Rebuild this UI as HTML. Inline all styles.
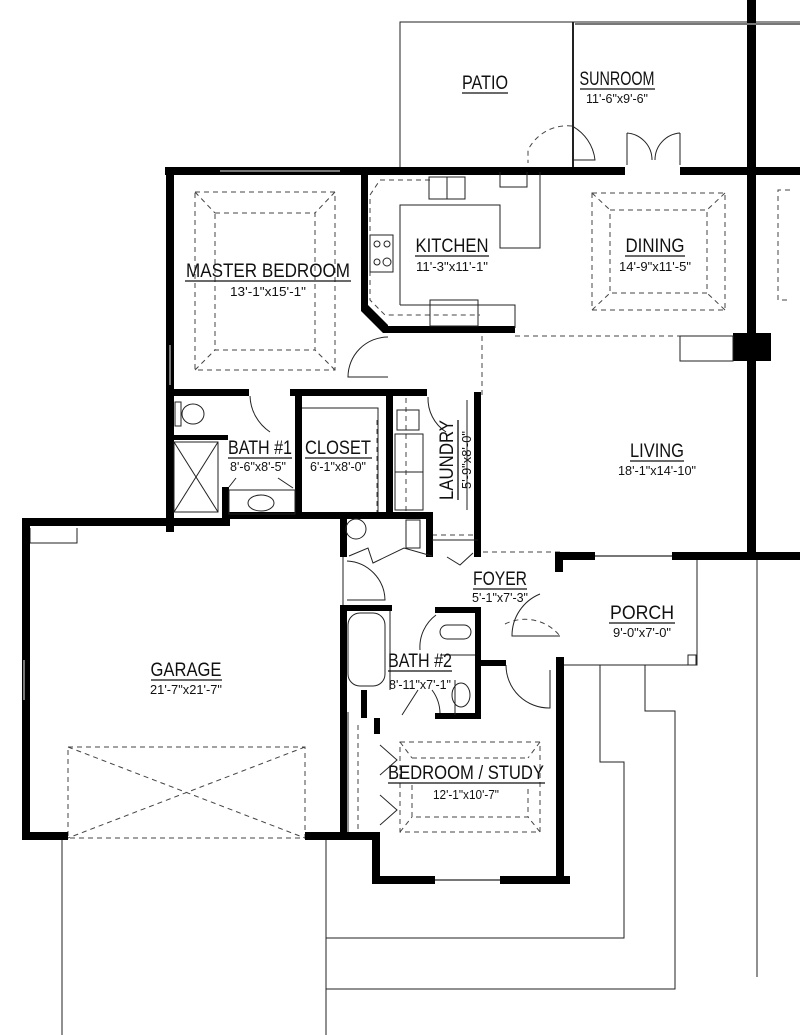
<!DOCTYPE html>
<html><head><meta charset="utf-8"><style>
html,body{margin:0;padding:0;background:#fff}
svg{display:block}
.t{font-family:"Liberation Sans Narrow","Liberation Sans",sans-serif;fill:#111;text-anchor:middle}
.l{font-size:19px}
.d{font-size:13px}
</style></head><body>
<svg width="800" height="1035" viewBox="0 0 800 1035" xmlns="http://www.w3.org/2000/svg">
<g fill="none" stroke="#222" stroke-width="1">
 <polyline points="400,168 400,22 800,22"/>
 <line x1="573" y1="22" x2="573" y2="168" stroke-width="2"/>
 <line x1="62" y1="838" x2="62" y2="1035"/>
 <line x1="326" y1="838" x2="326" y2="1035"/>
 <polyline points="326,938 624,938 624,762 600,762 600,665"/>
 <polyline points="326,989 675,989 675,711 645,711 645,665"/>
 <line x1="757" y1="560" x2="757" y2="977"/>
 <polyline points="562,665 697,665 697,560"/>
 <rect x="688" y="655" width="8" height="10"/>
 <polyline points="30,528 30,543 77,543 77,528"/>
 <line x1="343" y1="520" x2="343" y2="610"/>
 <line x1="348" y1="712" x2="348" y2="838"/>
</g>
<g fill="none" stroke="#444" stroke-width="1" stroke-dasharray="5,4">
 <rect x="195" y="192" width="140" height="178"/>
 <rect x="215" y="213" width="100" height="137"/>
 <line x1="195" y1="192" x2="215" y2="213"/><line x1="335" y1="192" x2="315" y2="213"/>
 <line x1="195" y1="370" x2="215" y2="350"/><line x1="335" y1="370" x2="315" y2="350"/>
 <rect x="592" y="193" width="133" height="117"/>
 <rect x="610" y="210" width="97" height="83"/>
 <line x1="592" y1="193" x2="610" y2="210"/><line x1="725" y1="193" x2="707" y2="210"/>
 <line x1="592" y1="310" x2="610" y2="293"/><line x1="725" y1="310" x2="707" y2="293"/>
 <polyline points="790,190 778,190 778,300 790,300"/>
 <rect x="400" y="742" width="140" height="90"/>
 <line x1="400" y1="742" x2="412" y2="758"/><line x1="540" y1="742" x2="528" y2="758"/>
 <polyline points="412,758 528,758"/>
 <polyline points="412,785 412,817 528,817 528,785"/>
 <line x1="400" y1="832" x2="412" y2="817"/><line x1="540" y1="832" x2="528" y2="817"/>
 <rect x="68" y="747" width="237" height="91"/>
 <line x1="68" y1="747" x2="305" y2="838"/><line x1="305" y1="747" x2="68" y2="838"/>
 <polyline points="430,180 380,180 370,195 370,300 385,315 480,315"/>
 <line x1="515" y1="336" x2="680" y2="336"/>
 <line x1="482" y1="336" x2="482" y2="395"/>
 <line x1="560" y1="552" x2="480" y2="552"/>
 <line x1="406" y1="398" x2="406" y2="512"/>
 <line x1="432" y1="535" x2="478" y2="535"/>
 <polyline points="377,420 377,513 298,513"/>
 <line x1="358" y1="725" x2="358" y2="838"/>
 <path d="M572,126 A44,44 0 0 0 528,150 L528,163"/>
 <path d="M505,624 A45,45 0 0 1 560,636 M560,636 L512,636"/>
</g>
<g fill="#000">
 <rect x="165" y="167" width="235" height="8"/>
 <rect x="400" y="167" width="160" height="8"/>
 <rect x="560" y="167" width="65" height="8"/>
 <rect x="680" y="167" width="120" height="8"/>
 <rect x="747" y="0" width="9" height="557"/>
 <rect x="733" y="333" width="38" height="28"/>
 <rect x="166" y="167" width="8" height="365"/>
 <rect x="361" y="172" width="7" height="133"/>
 <polygon points="361,305 368,305 388,325 388,333 383,333 361,311"/>
 <rect x="383" y="326" width="132" height="7"/>
 <rect x="166" y="389" width="83" height="7"/>
 <rect x="290" y="389" width="137" height="7"/>
 <rect x="295" y="389" width="7" height="125"/>
 <rect x="386" y="389" width="7" height="127"/>
 <rect x="474" y="392" width="7" height="165"/>
 <rect x="166" y="435" width="62" height="5"/>
 <rect x="222" y="487" width="7" height="35"/>
 <rect x="22" y="518" width="208" height="8"/>
 <rect x="222" y="512" width="210" height="7"/>
 <rect x="340" y="512" width="7" height="45"/>
 <rect x="426" y="512" width="7" height="45"/>
 <rect x="22" y="518" width="8" height="322"/>
 <rect x="22" y="832" width="46" height="8"/>
 <rect x="305" y="832" width="73" height="8"/>
 <rect x="340" y="605" width="7" height="110"/>
 <rect x="340" y="605" width="52" height="6"/>
 <rect x="435" y="607" width="46" height="6"/>
 <rect x="475" y="607" width="6" height="112"/>
 <rect x="435" y="713" width="46" height="6"/>
 <rect x="478" y="660" width="28" height="6"/>
 <rect x="361" y="690" width="6" height="28"/>
 <rect x="374" y="718" width="6" height="16"/>
 <rect x="340" y="690" width="7" height="150"/>
 <rect x="372" y="832" width="8" height="52"/>
 <rect x="372" y="876" width="63" height="8"/>
 <rect x="500" y="876" width="70" height="8"/>
 <rect x="556" y="657" width="8" height="227"/>
 <rect x="555" y="552" width="40" height="8"/>
 <rect x="672" y="552" width="128" height="8"/>
 <rect x="555" y="552" width="8" height="20"/>
</g>
<g stroke="#777" stroke-width="2">
 <line x1="220" y1="171" x2="340" y2="171"/>
 <line x1="595" y1="556" x2="672" y2="556"/>
 <line x1="435" y1="880" x2="500" y2="880"/>
 <line x1="575" y1="24" x2="800" y2="24"/>
 <line x1="170" y1="345" x2="170" y2="385"/>
 <line x1="24" y1="660" x2="24" y2="700"/>
</g>
<g fill="none" stroke="#222" stroke-width="1">
 <rect x="429" y="177" width="36" height="22"/>
 <line x1="447" y1="177" x2="447" y2="199"/>
 <polyline points="400,305 400,205 500,205 500,248 540,248 540,172"/>
 <polyline points="400,305 515,305 515,328"/>
 <rect x="430" y="300" width="48" height="26"/>
 <rect x="370" y="235" width="23" height="37"/>
 <circle cx="377" cy="244" r="3"/><circle cx="387" cy="244" r="3"/><circle cx="377" cy="262" r="3"/><circle cx="387" cy="262" r="4"/>
 <polyline points="500,172 500,187 527,187 527,172"/>
 <path d="M572,126 A44,44 0 0 1 595,160 L572,160"/>
 <path d="M627,133 L627,165 M627,133 A27,27 0 0 1 652,160 M680,133 L680,165 M680,133 A27,27 0 0 0 655,160"/>
 <rect x="680" y="336" width="53" height="25"/>
 <path d="M388,337 A40,40 0 0 0 348,377 L388,377"/>
 <rect x="175" y="402" width="6" height="24"/>
 <ellipse cx="193" cy="414" rx="11" ry="10"/>
 <rect x="174" y="442" width="44" height="70"/>
 <line x1="174" y1="442" x2="218" y2="512"/><line x1="218" y1="442" x2="174" y2="512"/>
 <rect x="229" y="490" width="66" height="24"/>
 <ellipse cx="261" cy="503" rx="13" ry="8"/>
 <path d="M250,396 A45,45 0 0 0 270,432"/>
 <path d="M278,478 L293,488 M229,487 L236,478"/>
 <polyline points="302,408 378,408 378,512"/>
 <rect x="397" y="410" width="22" height="20"/>
 <rect x="395" y="434" width="28" height="38"/>
 <rect x="395" y="472" width="28" height="38"/>
 <path d="M428,397 A40,40 0 0 0 446,432"/>
 <line x1="467" y1="400" x2="467" y2="510"/>
 <circle cx="356" cy="529" r="10"/>
 <rect x="406" y="520" width="14" height="28"/>
 <polyline points="349,556 368,548 373,563 404,548 432,556"/>
 <polyline points="447,557 460,565 473,553"/>
 <line x1="432" y1="540" x2="478" y2="540"/>
 <path d="M347,561 A40,40 0 0 1 385,600 L347,600"/>
 <rect x="348" y="613" width="37" height="73" rx="12"/>
 <line x1="390" y1="611" x2="390" y2="690"/>
 <rect x="440" y="625" width="31" height="14" rx="7"/>
 <ellipse cx="461" cy="695" rx="9" ry="12"/>
 <line x1="455" y1="680" x2="455" y2="715"/>
 <path d="M436,615 A40,40 0 0 0 420,650"/>
 <path d="M418,690 L402,715 M432,690 A40,40 0 0 1 440,713"/>
 <line x1="440" y1="655" x2="475" y2="655"/>
 <path d="M506,665 A43,43 0 0 0 550,708 L550,670"/>
 <path d="M560,636 L512,636 A45,45 0 0 1 540,594"/>
 <polyline points="380,745 397,760 380,775"/>
 <polyline points="380,795 397,810 380,825"/>
</g>
<g class="t">
 <text class="l" x="485" y="89" textLength="46" lengthAdjust="spacingAndGlyphs">PATIO</text>
 <text class="l" x="617" y="85" textLength="75" lengthAdjust="spacingAndGlyphs">SUNROOM</text>
 <text class="d" x="617" y="103" textLength="62" lengthAdjust="spacingAndGlyphs">11'-6"x9'-6"</text>
 <text class="l" x="268" y="277" textLength="164" lengthAdjust="spacingAndGlyphs">MASTER BEDROOM</text>
 <text class="d" x="268" y="296" textLength="76" lengthAdjust="spacingAndGlyphs">13'-1"x15'-1"</text>
 <text class="l" x="452" y="252" textLength="73" lengthAdjust="spacingAndGlyphs">KITCHEN</text>
 <text class="d" x="452" y="271" textLength="72" lengthAdjust="spacingAndGlyphs">11'-3"x11'-1"</text>
 <text class="l" x="655" y="252" textLength="59" lengthAdjust="spacingAndGlyphs">DINING</text>
 <text class="d" x="655" y="271" textLength="72" lengthAdjust="spacingAndGlyphs">14'-9"x11'-5"</text>
 <text class="l" x="657" y="457" textLength="54" lengthAdjust="spacingAndGlyphs">LIVING</text>
 <text class="d" x="657" y="475" textLength="78" lengthAdjust="spacingAndGlyphs">18'-1"x14'-10"</text>
 <text class="l" x="260" y="454" textLength="64" lengthAdjust="spacingAndGlyphs">BATH #1</text>
 <text class="d" x="258" y="471" textLength="56" lengthAdjust="spacingAndGlyphs">8'-6"x8'-5"</text>
 <text class="l" x="338" y="454" textLength="66" lengthAdjust="spacingAndGlyphs">CLOSET</text>
 <text class="d" x="338" y="471" textLength="56" lengthAdjust="spacingAndGlyphs">6'-1"x8'-0"</text>
 <text class="l" transform="translate(453,460) rotate(-90)" textLength="80" lengthAdjust="spacingAndGlyphs">LAUNDRY</text>
 <text class="d" transform="translate(471,460) rotate(-90)" textLength="58" lengthAdjust="spacingAndGlyphs">5'-9"x8'-0"</text>
 <text class="l" x="500" y="585" textLength="54" lengthAdjust="spacingAndGlyphs">FOYER</text>
 <text class="d" x="500" y="602" textLength="56" lengthAdjust="spacingAndGlyphs">5'-1"x7'-3"</text>
 <text class="l" x="642" y="619" textLength="64" lengthAdjust="spacingAndGlyphs">PORCH</text>
 <text class="d" x="642" y="637" textLength="58" lengthAdjust="spacingAndGlyphs">9'-0"x7'-0"</text>
 <text class="l" x="186" y="676" textLength="71" lengthAdjust="spacingAndGlyphs">GARAGE</text>
 <text class="d" x="186" y="694" textLength="72" lengthAdjust="spacingAndGlyphs">21'-7"x21'-7"</text>
 <text class="l" x="420" y="667" textLength="64" lengthAdjust="spacingAndGlyphs">BATH #2</text>
 <text class="d" x="420" y="689" textLength="62" lengthAdjust="spacingAndGlyphs">8'-11"x7'-1"</text>
 <text class="l" x="466" y="779" textLength="156" lengthAdjust="spacingAndGlyphs">BEDROOM / STUDY</text>
 <text class="d" x="466" y="799" textLength="66" lengthAdjust="spacingAndGlyphs">12'-1"x10'-7"</text>
</g>
<g stroke="#111" stroke-width="1.3">
 <line x1="462" y1="93" x2="508" y2="93"/>
 <line x1="580" y1="89" x2="655" y2="89"/>
 <line x1="185" y1="281" x2="351" y2="281"/>
 <line x1="415" y1="256" x2="489" y2="256"/>
 <line x1="625" y1="256" x2="685" y2="256"/>
 <line x1="630" y1="461" x2="684" y2="461"/>
 <line x1="228" y1="458" x2="292" y2="458"/>
 <line x1="305" y1="458" x2="372" y2="458"/>
 <line x1="458" y1="420" x2="458" y2="500"/>
 <line x1="473" y1="589" x2="527" y2="589"/>
 <line x1="609" y1="623" x2="675" y2="623"/>
 <line x1="151" y1="680" x2="222" y2="680"/>
 <line x1="388" y1="671" x2="452" y2="671"/>
 <line x1="388" y1="783" x2="545" y2="783"/>
</g>
</svg>
</body></html>
